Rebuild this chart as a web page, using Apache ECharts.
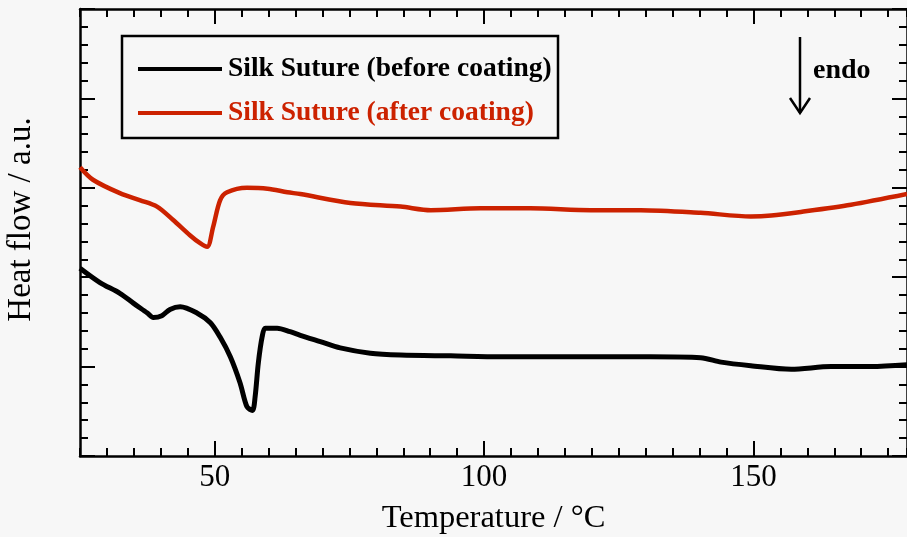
<!DOCTYPE html>
<html>
<head>
<meta charset="utf-8">
<script src="https://cdn.jsdelivr.net/npm/echarts@6/dist/echarts.min.js"></script>
<style>
html, body { margin: 0; padding: 0; background: #f7f7f7; }
#chart { width: 907px; height: 537px; }
</style>
</head>
<body>
<div id="chart"></div>
<script>
// DSC curves (temperature in °C, heat flow in a.u.)
const tempBefore = [25.0, 28.7, 32.4, 34.9, 37.5, 38.6, 40.2, 41.7, 43.6, 46.7, 49.2, 51.0, 52.9, 54.7, 56.0, 57.0, 57.5, 58.1, 58.8, 59.4, 61.6, 64.0, 65.9, 69.6, 73.3, 78.9, 84.5, 93.8, 103.1, 112.4, 121.7, 130.9, 140.2, 144.0, 149.5, 157.0, 164.4, 171.8, 178.5];
const heatBefore = [2.10, 1.94, 1.82, 1.71, 1.60, 1.55, 1.57, 1.64, 1.67, 1.60, 1.49, 1.33, 1.11, 0.82, 0.55, 0.51, 0.66, 1.04, 1.33, 1.43, 1.43, 1.39, 1.35, 1.28, 1.21, 1.15, 1.13, 1.12, 1.11, 1.11, 1.11, 1.11, 1.10, 1.05, 1.01, 0.97, 1.00, 1.00, 1.02];
const tempAfter = [25.0, 27.4, 32.4, 36.2, 39.3, 42.3, 45.4, 47.3, 48.6, 49.7, 51.0, 52.3, 56.0, 59.8, 63.5, 65.9, 75.2, 84.5, 90.1, 99.3, 108.6, 119.8, 129.1, 140.2, 149.5, 153.3, 158.8, 168.1, 178.5];
const heatAfter = [3.23, 3.09, 2.94, 2.86, 2.79, 2.64, 2.47, 2.38, 2.34, 2.56, 2.86, 2.95, 3.00, 2.99, 2.95, 2.93, 2.83, 2.79, 2.75, 2.77, 2.77, 2.75, 2.75, 2.72, 2.68, 2.69, 2.73, 2.81, 2.93];

const seriesNames = ['Silk Suture (before coating)', 'Silk Suture (after coating)'];
const majorTemps = [50, 100, 150];

const red = '#cc2200';
const font = '"Liberation Serif", "Times New Roman", serif';

function pairs(xs, ys) {
    return xs.map((x, i) => [x, ys[i]]);
}

const minorX = {
    type: 'value',
    min: 25,
    max: 178.5,
    interval: 5,
    axisLine: { lineStyle: { color: '#000', width: 2.5 } },
    axisTick: { inside: true, length: 8, lineStyle: { color: '#000', width: 2 } },
    axisLabel: { show: false },
    splitLine: { show: false }
};
const majorX = {
    type: 'value',
    min: 25,
    max: 178.5,
    axisLine: { show: false },
    axisTick: { inside: true, length: 15, customValues: majorTemps, lineStyle: { color: '#000', width: 2 } },
    axisLabel: { show: false, customValues: majorTemps },
    splitLine: { show: false }
};
const yBase = {
    type: 'value',
    min: 0,
    max: 5,
    interval: 1,
    axisLine: { show: true, lineStyle: { color: '#000', width: 2.5 } },
    axisTick: { show: true, inside: true, length: 15, lineStyle: { color: '#000', width: 2 } },
    minorTick: { show: true, splitNumber: 5, length: 8, lineStyle: { color: '#000', width: 2 } },
    axisLabel: { show: false },
    splitLine: { show: false }
};

const chart = echarts.init(document.getElementById('chart'));
chart.setOption({
    backgroundColor: '#f7f7f7',
    animation: false,
    grid: { left: 80, right: 0, top: 9, bottom: 81, containLabel: false, outerBoundsMode: 'none' },
    legend: {
        orient: 'vertical',
        left: 138,
        top: 55,
        padding: 0,
        itemGap: 16,
        itemWidth: 84,
        itemHeight: 4,
        icon: 'rect',
        textStyle: { fontFamily: font, fontSize: 27.5, fontWeight: 'bold', padding: [0, 0, 0, 1] },
        data: [
            { name: seriesNames[0], textStyle: { color: '#000' } },
            { name: seriesNames[1], textStyle: { color: red } }
        ]
    },
    xAxis: [
        Object.assign({}, minorX, {
            position: 'bottom',
            name: 'Temperature / °C',
            nameLocation: 'middle',
            nameGap: 46,
            nameTextStyle: { fontFamily: font, fontSize: 32.5, color: '#000' }
        }),
        Object.assign({}, majorX, {
            position: 'bottom',
            axisLabel: { show: true, customValues: majorTemps, margin: 6, fontFamily: font, fontSize: 31, color: '#000' }
        }),
        Object.assign({}, minorX, { position: 'top' }),
        Object.assign({}, majorX, { position: 'top' })
    ],
    yAxis: [
        Object.assign({}, yBase, {
            position: 'left',
            name: 'Heat flow / a.u.',
            nameLocation: 'middle',
            nameGap: 42,
            nameTextStyle: { fontFamily: font, fontSize: 33, color: '#000', padding: [0, 0, 0, 26] }
        }),
        Object.assign({}, yBase, { position: 'right' })
    ],
    series: [
        {
            name: seriesNames[0],
            type: 'line',
            data: pairs(tempBefore, heatBefore),
            smooth: 0.3,
            showSymbol: false,
            color: '#000',
            lineStyle: { width: 5, color: '#000' }
        },
        {
            name: seriesNames[1],
            type: 'line',
            data: pairs(tempAfter, heatAfter),
            smooth: 0.3,
            showSymbol: false,
            color: red,
            lineStyle: { width: 4.5, color: red }
        }
    ],
    graphic: [
        // legend frame
        { type: 'rect', shape: { x: 122, y: 36, width: 436, height: 102 }, style: { fill: null, stroke: '#000', lineWidth: 2.5 } },
        // endo arrow
        { type: 'line', shape: { x1: 800, y1: 37, x2: 800, y2: 113 }, style: { stroke: '#000', lineWidth: 2.5 } },
        { type: 'polyline', shape: { points: [[790, 98], [800, 113], [810, 98]] }, style: { fill: null, stroke: '#000', lineWidth: 2.5 } },
        { type: 'text', left: 813, top: 57, style: { text: 'endo', font: 'bold 28px ' + font, fill: '#000' } }
    ]
});
</script>
</body>
</html>
